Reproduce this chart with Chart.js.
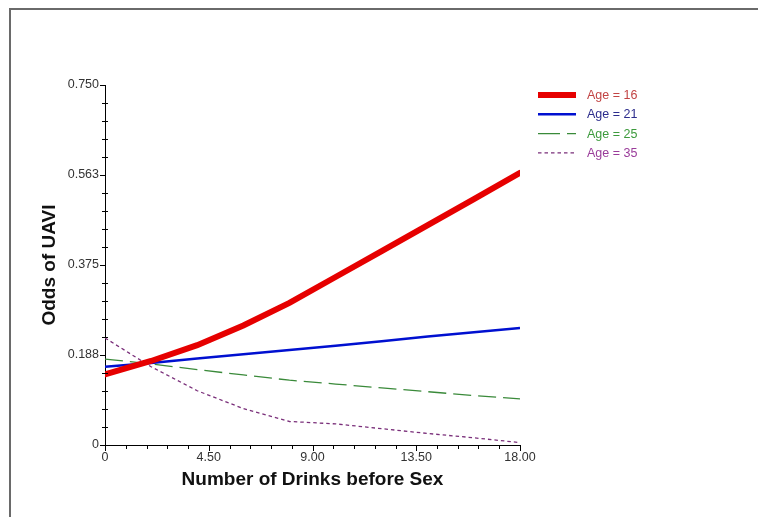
<!DOCTYPE html>
<html>
<head>
<meta charset="utf-8">
<script src="https://cdn.jsdelivr.net/npm/chart.js@4.4.1/dist/chart.umd.min.js"></script>
<style>
  html, body { margin: 0; padding: 0; background: #fff; }
  #wrap { position: relative; width: 758px; height: 517px; overflow: hidden; }
  #frame { position: absolute; left: 9px; top: 8px; right: -4px; bottom: -4px;
           border-left: 2px solid #6a6a6a; border-top: 2px solid #6a6a6a; pointer-events: none; }
  canvas { display: block; }
</style>
</head>
<body>
<div id="wrap">
  <canvas id="chart" width="758" height="517"></canvas>
  <div id="frame"></div>
</div>
<script>
// Number of drinks before sex (x values)
const drinks = [0, 2, 4, 6, 8, 10, 12, 14, 16, 18];

// Predicted odds of UAVI by age
const age16 = [0.147, 0.175, 0.208, 0.249, 0.296, 0.350, 0.404, 0.458, 0.512, 0.567];
const age21 = [0.163, 0.171, 0.180, 0.189, 0.198, 0.207, 0.216, 0.226, 0.235, 0.244];
const age25 = [0.179, 0.169, 0.157, 0.146, 0.135, 0.127, 0.119, 0.111, 0.103, 0.096];
const age35 = [0.223, 0.163, 0.113, 0.076, 0.049, 0.044, 0.034, 0.024, 0.015, 0.005];

const seriesLabels = ['Age = 16', 'Age = 21', 'Age = 25', 'Age = 35'];
const labelColors  = ['#c24444', '#2c2c8c', '#3c9a3c', '#9a3c9a'];

// Axis ticks: labelled majors and their values
const xTickValues = [0, 4.5, 9, 13.5, 18];
const xTickLabels = ['0', '4.50', '9.00', '13.50', '18.00'];
const yTickValues = [0, 0.1875, 0.375, 0.5625, 0.75];
const yTickLabels = ['0', '0.188', '0.375', '0.563', '0.750'];
const minorPerMajor = 5;

function pts(ys) { return drinks.map((x, i) => ({ x: x, y: ys[i] })); }

// Majors plus evenly spaced minors between them
function withMinors(majors) {
  const out = [];
  for (let i = 0; i < majors.length; i++) {
    out.push({ value: majors[i], major: true });
    if (i < majors.length - 1) {
      const step = (majors[i + 1] - majors[i]) / minorPerMajor;
      for (let k = 1; k < minorPerMajor; k++) out.push({ value: majors[i] + step * k, major: false });
    }
  }
  return out;
}

const FONT = "'Liberation Sans', Arial, sans-serif";

// Axis tick marks: majors outward, minors short
const tickMarks = {
  id: 'tickMarks',
  afterDraw(chart) {
    const ctx = chart.ctx;
    const xs = chart.scales.x, ys = chart.scales.y;
    const ca = chart.chartArea;
    ctx.save();
    ctx.strokeStyle = '#000';
    ctx.lineWidth = 1;
    ctx.beginPath();
    xs.ticks.forEach(t => {
      const px = Math.round(xs.getPixelForValue(t.value)) + 0.5;
      const len = t.major ? 6 : 4;
      ctx.moveTo(px, ca.bottom);
      ctx.lineTo(px, ca.bottom + len);
    });
    ys.ticks.forEach(t => {
      const py = Math.round(ys.getPixelForValue(t.value)) + 0.5;
      if (t.major) {
        ctx.moveTo(ca.left - 5, py);
        ctx.lineTo(ca.left, py);
      } else {
        ctx.moveTo(ca.left - 3, py);
        ctx.lineTo(ca.left + 3, py);
      }
    });
    ctx.stroke();
    ctx.restore();
  }
};

// Legend box at the upper right
const sideLegend = {
  id: 'sideLegend',
  afterDraw(chart) {
    const ctx = chart.ctx;
    const x0 = 538, x1 = 576, tx = 587, y0 = 95, dy = 19.3;
    ctx.save();
    chart.data.datasets.forEach((ds, i) => {
      const y = y0 + i * dy;
      ctx.beginPath();
      ctx.strokeStyle = ds.borderColor;
      ctx.lineWidth = ds.borderWidth;
      ctx.setLineDash(ds.legendDash || []);
      ctx.moveTo(x0, y);
      ctx.lineTo(x1, y);
      ctx.stroke();
      ctx.setLineDash([]);
      ctx.fillStyle = labelColors[i];
      ctx.font = '12.5px ' + FONT;
      ctx.textBaseline = 'middle';
      ctx.fillText(seriesLabels[i], tx, y + 0.5);
    });
    ctx.restore();
  }
};

new Chart(document.getElementById('chart'), {
  type: 'line',
  data: {
    datasets: [
      { label: seriesLabels[0], data: pts(age16), borderColor: '#e60000', borderWidth: 6,
        borderCapStyle: 'round', legendDash: [] },
      { label: seriesLabels[1], data: pts(age21), borderColor: '#0010d0', borderWidth: 2.5,
        legendDash: [] },
      { label: seriesLabels[2], data: pts(age25), borderColor: '#3a8a3a', borderWidth: 1.3,
        borderDash: [18, 7], legendDash: [22, 7] },
      { label: seriesLabels[3], data: pts(age35), borderColor: '#7a2f7a', borderWidth: 1.3,
        borderDash: [3.5, 3], legendDash: [3.5, 3] }
    ]
  },
  options: {
    responsive: false,
    animation: false,
    devicePixelRatio: 1,
    layout: { padding: { left: 38, right: 238, top: 85, bottom: 26 } },
    elements: { point: { radius: 0, hoverRadius: 0 }, line: { tension: 0, fill: false } },
    plugins: { legend: { display: false }, tooltip: { enabled: false } },
    scales: {
      x: {
        type: 'linear', min: 0, max: 18,
        afterBuildTicks(scale) { scale.ticks = withMinors(xTickValues); },
        afterFit(scale) { scale.height = 46; },
        grid: { display: false, drawTicks: false },
        border: { display: true, color: '#000', width: 1 },
        ticks: {
          autoSkip: false, maxRotation: 0, padding: 5,
          color: '#333', font: { family: FONT, size: 12.5 },
          callback(value, index, ticks) {
            const i = xTickValues.indexOf(ticks[index].value);
            return ticks[index].major && i >= 0 ? xTickLabels[i] : '';
          }
        },
        title: {
          display: true, text: 'Number of Drinks before Sex', color: '#111',
          padding: 0, font: { family: FONT, size: 19, weight: 'bold' }
        }
      },
      y: {
        type: 'linear', min: 0, max: 0.75,
        afterBuildTicks(scale) { scale.ticks = withMinors(yTickValues); },
        afterFit(scale) { scale.width = 67; },
        grid: { display: false, drawTicks: false },
        border: { display: true, color: '#000', width: 1 },
        ticks: {
          autoSkip: false, padding: 6,
          color: '#333', font: { family: FONT, size: 12.5 },
          callback(value, index, ticks) {
            const i = yTickValues.indexOf(ticks[index].value);
            return ticks[index].major && i >= 0 ? yTickLabels[i] : '';
          }
        },
        title: {
          display: true, text: 'Odds of UAVI', color: '#111',
          padding: 0, font: { family: FONT, size: 19, weight: 'bold' }
        }
      }
    }
  },
  plugins: [tickMarks, sideLegend]
});
</script>
</body>
</html>
